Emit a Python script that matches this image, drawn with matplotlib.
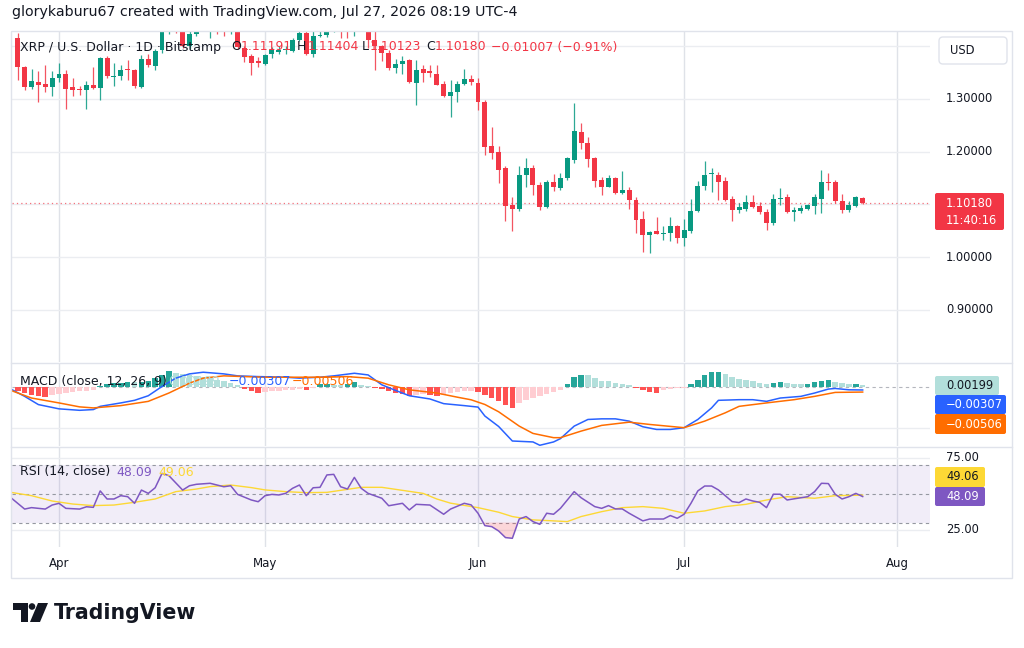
import numpy as np
import matplotlib
matplotlib.use('Agg')
import matplotlib.pyplot as plt
from matplotlib.transforms import blended_transform_factory
from matplotlib.patches import Rectangle, FancyBboxPatch, Polygon, Circle

plt.rcParams['font.family'] = ['DejaVu Sans']

# ---- data (day 0 = Apr 1, 2026) ----
days = list(range(-6, 118))
opens = [1.4156, 1.360, 1.322, 1.332, 1.328, 1.322, 1.340, 1.347, 1.322, 1.319,
         1.316, 1.326, 1.321, 1.378, 1.342, 1.344, 1.356, 1.354, 1.323, 1.376,
         1.362, 1.392, 1.440, 1.462, 1.442, 1.400, 1.423, 1.440, 1.436, 1.455,
         1.445, 1.428, 1.440, 1.397, 1.381, 1.371, 1.366, 1.385, 1.389, 1.392,
         1.391, 1.412, 1.425, 1.385, 1.420, 1.421, 1.428, 1.458, 1.445, 1.435,
         1.450, 1.440, 1.412, 1.400, 1.387, 1.359, 1.366, 1.373, 1.331, 1.356,
         1.352, 1.348, 1.328, 1.305, 1.314, 1.328, 1.338, 1.331, 1.295, 1.211,
         1.200, 1.168, 1.098, 1.092, 1.155, 1.168, 1.137, 1.095, 1.142, 1.131,
         1.149, 1.184, 1.237, 1.217, 1.187, 1.146, 1.133, 1.149, 1.122, 1.128,
         1.109, 1.072, 1.042, 1.049, 1.044, 1.046, 1.058, 1.037, 1.050, 1.088,
         1.134, 1.157, 1.156, 1.144, 1.111, 1.089, 1.091, 1.104, 1.097, 1.085,
         1.065, 1.110, 1.113, 1.085, 1.088, 1.092, 1.097, 1.111, 1.143, 1.143,
         1.106, 1.089, 1.096, 1.11191]
highs = [1.425, 1.362, 1.357, 1.352, 1.365, 1.352, 1.368, 1.355, 1.340, 1.324,
         1.333, 1.360, 1.379, 1.381, 1.368, 1.364, 1.373, 1.356, 1.384, 1.385,
         1.395, 1.460, 1.475, 1.470, 1.450, 1.440, 1.452, 1.455, 1.468, 1.462,
         1.450, 1.448, 1.445, 1.400, 1.386, 1.380, 1.386, 1.398, 1.401, 1.400,
         1.416, 1.430, 1.432, 1.435, 1.432, 1.440, 1.460, 1.465, 1.452, 1.458,
         1.456, 1.445, 1.430, 1.403, 1.392, 1.376, 1.381, 1.375, 1.374, 1.364,
         1.364, 1.364, 1.333, 1.336, 1.333, 1.357, 1.345, 1.339, 1.298, 1.247,
         1.210, 1.173, 1.114, 1.173, 1.187, 1.175, 1.142, 1.146, 1.157, 1.160,
         1.190, 1.293, 1.255, 1.227, 1.190, 1.152, 1.156, 1.152, 1.164, 1.132,
         1.113, 1.088, 1.050, 1.076, 1.058, 1.076, 1.060, 1.073, 1.111, 1.145,
         1.183, 1.168, 1.162, 1.151, 1.116, 1.102, 1.117, 1.117, 1.105, 1.092,
         1.120, 1.131, 1.119, 1.095, 1.099, 1.101, 1.120, 1.165, 1.159, 1.146,
         1.120, 1.107, 1.115, 1.11404]
lows = [1.336, 1.317, 1.319, 1.294, 1.314, 1.305, 1.332, 1.281, 1.305, 1.308,
        1.280, 1.318, 1.297, 1.340, 1.324, 1.335, 1.336, 1.321, 1.321, 1.360,
        1.354, 1.388, 1.424, 1.425, 1.396, 1.395, 1.420, 1.430, 1.415, 1.424,
        1.420, 1.424, 1.395, 1.370, 1.346, 1.360, 1.364, 1.378, 1.385, 1.386,
        1.389, 1.409, 1.384, 1.379, 1.417, 1.418, 1.427, 1.415, 1.415, 1.420,
        1.430, 1.397, 1.355, 1.371, 1.355, 1.349, 1.347, 1.330, 1.289, 1.332,
        1.342, 1.326, 1.303, 1.265, 1.295, 1.326, 1.326, 1.279, 1.193, 1.185,
        1.141, 1.069, 1.050, 1.088, 1.132, 1.118, 1.089, 1.093, 1.126, 1.127,
        1.146, 1.178, 1.204, 1.170, 1.132, 1.118, 1.132, 1.120, 1.120, 1.091,
        1.046, 1.010, 1.008, 1.043, 1.032, 1.031, 1.027, 1.021, 1.045, 1.085,
        1.128, 1.124, 1.108, 1.107, 1.069, 1.083, 1.088, 1.093, 1.081, 1.052,
        1.061, 1.098, 1.083, 1.069, 1.084, 1.090, 1.082, 1.084, 1.128, 1.102,
        1.084, 1.086, 1.094, 1.10123]
closes = [1.3605, 1.322, 1.333, 1.327, 1.322, 1.340, 1.347, 1.319, 1.317, 1.316,
          1.326, 1.321, 1.378, 1.343, 1.344, 1.355, 1.354, 1.324, 1.376, 1.364,
          1.390, 1.440, 1.462, 1.442, 1.400, 1.423, 1.440, 1.436, 1.455, 1.445,
          1.428, 1.440, 1.398, 1.379, 1.368, 1.368, 1.384, 1.393, 1.393, 1.395,
          1.412, 1.425, 1.385, 1.419, 1.422, 1.428, 1.448, 1.440, 1.435, 1.450,
          1.440, 1.412, 1.400, 1.387, 1.359, 1.366, 1.371, 1.332, 1.355, 1.349,
          1.350, 1.327, 1.305, 1.314, 1.328, 1.338, 1.332, 1.295, 1.208, 1.198,
          1.166, 1.097, 1.092, 1.156, 1.168, 1.136, 1.095, 1.142, 1.132, 1.150,
          1.187, 1.239, 1.216, 1.185, 1.145, 1.133, 1.149, 1.122, 1.128, 1.108,
          1.070, 1.042, 1.047, 1.044, 1.046, 1.058, 1.037, 1.051, 1.088, 1.134,
          1.156, 1.159, 1.143, 1.109, 1.089, 1.094, 1.104, 1.095, 1.085, 1.065,
          1.110, 1.112, 1.085, 1.090, 1.093, 1.098, 1.113, 1.143, 1.141, 1.106,
          1.089, 1.098, 1.113, 1.10180]

# MACD values in thousandths
macd_days = [-7, -5, -3, 0, 3, 5, 6, 9, 11, 13, 15, 17, 19, 21, 24, 26, 29, 33, 35, 38,
             40, 43, 45, 47, 49, 51, 54, 56, 59, 61, 62, 64, 66, 69, 70, 72, 73, 75, 77, 79,
             81, 83, 85, 87, 89, 91, 93, 95, 96, 99, 101, 103, 105, 108, 110, 112, 113, 115, 117]
macd_line = [-2.2, -9.2, -17.1, -21.2, -22.6, -21.9, -18.8, -15.5, -13.0, -8.6,
             0.3, 8.3, 12.4, 14.0, 12.4, 10.5, 9.8, 9.2, 8.3, 9.2,
             10.5, 13.0, 11.4, 1.9, -3.5, -8.6, -11.7, -16.2, -18.1, -19.5,
             -28.1, -38.1, -52.1, -53.0, -56.2, -53.0, -49.8, -37.8, -31.4, -30.8,
             -30.8, -33.0, -38.4, -41.0, -41.0, -39.3, -31.4, -20.3, -13.0, -12.4,
             -12.4, -14.0, -10.8, -9.2, -6.0, -2.2, -1.6, -2.9, -3.07]
signal_days = [-7, -4, 0, 3, 5, 9, 13, 16, 19, 21, 24, 27, 30, 35, 39, 42, 45, 48, 51, 55,
               58, 60, 62, 64, 67, 69, 72, 73, 76, 79, 83, 86, 91, 94, 97, 99, 103, 107, 110, 113, 117]
signal_line = [-3.5, -10.8, -15.5, -19.3, -20.3, -18.1, -14.0, -6.0, 3.5, 8.3,
               10.5, 9.8, 9.2, 9.2, 9.2, 9.8, 8.3, 1.9, -2.9, -6.0,
               -10.0, -12.5, -17.0, -24.0, -37.8, -44.8, -48.9, -48.9, -42.6, -37.1,
               -34.0, -36.2, -39.3, -33.0, -25.0, -18.8, -15.5, -12.4, -9.2, -5.4, -5.06]
macd_hist = [-4, -6, -8, -9, -9.5, -7.5, -6.5, -5.5, -5, -4.5,
             -4, -3, 1, 3, 3.5, 4, 4.5, 4.2, 5, 6,
             8, 11, 15, 13, 12, 11, 10, 9, 8, 7,
             6, 4, 2, -2, -4, -5.5, -5, -4.5, -4, -3.5,
             -3, -2.5, -2.8, -1.5, 2.5, 3, 2, 1.5, 3, 5,
             2, 1, -1, -2.5, -4, -5.5, -7, -8.5, -8, -7,
             -7.5, -9, -8, -6, -5, -4.5, -4, -5, -8, -11,
             -14, -17.5, -20.5, -16, -12.5, -10.5, -8.5, -7, -5, -3,
             3, 9, 11.5, 11, 8, 6, 5.5, 4, 3, 1.5,
             -1.5, -3.5, -5, -5.5, -3.5, -2, -1.5, -0.8, 2.5, 7,
             11, 14, 14.5, 12.5, 9.5, 7.5, 7, 5.5, 3.5, 2.5,
             3.5, 5, 3.5, 2.5, 2.4, 3, 4.5, 5.5, 6.5, 5,
             3.5, 2.5, 2.6, 1.99]

rsi_days = [-7, -5, -4, -2, -1, 0, 1, 3, 4, 5, 6, 7, 8, 9, 10, 11, 12, 13, 14, 15,
            16, 18, 19, 20, 22, 23, 24, 25, 26, 28, 29, 30, 31, 32, 33, 34, 35, 36, 37, 38,
            39, 40, 41, 42, 43, 44, 45, 47, 48, 50, 51, 52, 54, 56, 57, 59, 60, 61, 62, 63,
            64, 65, 66, 67, 68, 69, 70, 71, 72, 73, 75, 76, 78, 79, 80, 81, 82, 83, 85, 86,
            88, 89, 90, 91, 92, 93, 94, 95, 96, 98, 99, 100, 101, 102, 103, 104, 105, 106, 107, 109,
            110, 111, 112, 113, 114, 115, 116, 117]
rsi_vals = [47.3, 39.4, 40.4, 39.4, 42.2, 43.4, 39.9, 39.4, 41.0, 40.6, 52.0, 46.4, 46.4, 48.7, 48.0, 43.4, 52.6, 50.3, 54.2, 64.2,
            62.6, 52.6, 55.6, 56.6, 57.3, 56.1, 54.9, 55.6, 49.6, 45.7, 44.5, 48.7, 49.6, 49.2, 50.3, 53.8, 56.1, 48.7, 54.2, 54.5,
            63.1, 63.5, 54.9, 53.3, 61.4, 53.8, 50.3, 46.9, 41.7, 43.4, 38.8, 42.7, 42.2, 35.8, 39.4, 43.4, 42.3, 36.5, 27.9, 27.2,
            24.2, 19.6, 19.1, 32.5, 34.2, 30.7, 28.8, 36.5, 35.8, 39.9, 51.5, 47.3, 41.1, 39.9, 41.8, 39.5, 39.5, 36.5, 31.2, 32.5,
            32.5, 34.9, 33.0, 35.8, 43.4, 52.0, 55.4, 55.4, 52.7, 44.6, 43.9, 46.4, 45.0, 44.1, 40.4, 49.7, 49.7, 45.7, 46.5, 48.0,
            51.5, 57.3, 57.1, 49.7, 46.4, 48.0, 50.3, 48.09]
rsi_ma_days = [-7, -4, -1, 2, 5, 8, 11, 14, 17, 20, 22, 25, 28, 30, 33, 36, 39, 42, 44, 47,
               50, 53, 55, 57, 61, 64, 66, 69, 72, 74, 76, 79, 82, 85, 88, 91, 94, 97, 100, 103,
               106, 110, 113, 117]
rsi_ma_vals = [51.0, 48.7, 45.0, 42.9, 41.8, 42.2, 44.1, 46.4, 51.5, 53.3, 55.0, 56.1, 54.3, 52.7, 51.5, 50.8, 51.0, 53.1, 54.5, 54.5,
               52.4, 50.3, 46.4, 43.5, 40.4, 37.2, 34.2, 31.9, 31.2, 30.7, 34.2, 37.6, 40.4, 41.1, 39.9, 36.5, 38.1, 41.1, 42.7, 45.7,
               48.0, 46.9, 48.7, 49.06]

month_days = [0, 30, 61, 91, 122]
month_labels = ['Apr', 'May', 'Jun', 'Jul', 'Aug']
price_levels = [0.9, 1.0, 1.1, 1.2, 1.3, 1.4]
price_labels = ['0.90000', '1.00000', '', '1.20000', '1.30000', '']

UP, DOWN = '#089981', '#F23645'
TXT = '#131722'
GRID = '#EBEDF1'
VGRID = '#DFE2E8'

# ---- figure layout (pixel boxes) ----
W, H = 1024, 648
fig = plt.figure(figsize=(10.24, 6.48), dpi=100)


def box(x0, y0, x1, y1):
    return [x0 / W, 1 - y1 / H, (x1 - x0) / W, (y1 - y0) / H]


ax_p = fig.add_axes(box(12, 32, 930, 362))
ax_m = fig.add_axes(box(12, 364, 930, 446))
ax_r = fig.add_axes(box(12, 447, 930, 547))

for ax in (ax_p, ax_m, ax_r):
    ax.set_xlim(-6.84, 126.8)
    for s in ax.spines.values():
        s.set_visible(False)
    ax.set_yticks([])
    ax.set_xticks([])
    for d in month_days:
        ax.axvline(d, color=VGRID, lw=1.0, zorder=0)

# ---- price pane ----
ax_p.set_ylim(0.8008, 1.4269)
for v in price_levels:
    ax_p.axhline(v, color=GRID, lw=1.0, zorder=0)
o = np.array(opens)
c = np.array(closes)
cols = np.where(c >= o, UP, DOWN)
ax_p.vlines(days, lows, highs, colors=cols, lw=0.9, alpha=0.85, zorder=2)
ax_p.bar(days, np.maximum(np.abs(c - o), 0.0015), bottom=np.minimum(o, c),
         width=0.72, color=cols, linewidth=0, zorder=3)
ax_p.axhline(closes[-1], color=DOWN, lw=0.9, ls=(0, (1, 2.5)), alpha=0.7, zorder=1)
tp = blended_transform_factory(ax_p.transAxes, ax_p.transData)
for v, lab in zip(price_levels, price_labels):
    if lab:
        ax_p.text(1.0174, v, lab, transform=tp, va='center', ha='left', fontsize=8.3, color=TXT)

# ---- MACD pane ----
ax_m.set_ylim(-56.9, 21.9)
ax_m.axhline(-40, color=GRID, lw=1.0, zorder=0)
ax_m.axhline(0, color='#9598A1', lw=0.8, ls=(0, (3, 3)), alpha=0.7, zorder=1)
hcols = []
prev = 0
for v in macd_hist:
    if v >= 0:
        hcols.append('#26A69A' if v >= prev else '#B2DFDB')
    else:
        hcols.append('#FF5252' if v < prev else '#FFCDD2')
    prev = v
ax_m.bar(days, macd_hist, width=0.8, color=hcols, linewidth=0, zorder=2)
ax_m.plot(macd_days, macd_line, color='#2962FF', lw=1.1, zorder=3)
ax_m.plot(signal_days, signal_line, color='#FF6D00', lw=1.1, zorder=3)

# ---- RSI pane ----
ax_r.set_ylim(13.06, 82.5)
for v in (25, 75):
    ax_r.axhline(v, color=GRID, lw=1.0, zorder=0)
ax_r.axhspan(30, 70, color='#7E57C2', alpha=0.1, lw=0, zorder=0)
for v in (30, 50, 70):
    ax_r.axhline(v, color='#9598A1', lw=0.8, ls=(0, (3, 3)), zorder=1)
rd = np.array(rsi_days)
rv = np.array(rsi_vals)
ax_r.fill_between(rd, rv, 30, where=rv < 30, interpolate=True, color='#F23645', alpha=0.2, lw=0, zorder=1)
ax_r.plot(rsi_ma_days, rsi_ma_vals, color='#FDD835', lw=1.0, zorder=2)
ax_r.plot(rsi_days, rsi_vals, color='#7E57C2', lw=1.1, zorder=3)
tr = blended_transform_factory(ax_r.transAxes, ax_r.transData)
ax_r.text(1.0174, 75, '75.00', transform=tr, va='center', ha='left', fontsize=8.3, color=TXT)
ax_r.text(1.0174, 25, '25.00', transform=tr, va='center', ha='left', fontsize=8.3, color=TXT)
ax_r.set_xticks(month_days)
ax_r.set_xticklabels(month_labels)
ax_r.tick_params(axis='x', length=0, pad=7, labelsize=8.5, labelcolor=TXT)

# ---- overlay: frame, legends, labels, logo ----
ov = fig.add_axes([0, 0, 1, 1])
ov.set_xlim(0, W)
ov.set_ylim(H, 0)
ov.axis('off')

ov.add_patch(Rectangle((11, 31), 1001, 547, fill=False, ec='#E0E3EB', lw=1.0))
ov.plot([11, 1012], [363, 363], color='#E0E3EB', lw=1.0)
ov.plot([11, 1012], [446.5, 446.5], color='#E0E3EB', lw=1.0)

ov.text(12, 12, 'glorykaburu67 created with TradingView.com, Jul 27, 2026 08:19 UTC-4',
        va='center', ha='left', fontsize=10.2, color=TXT)

fs = 9.0
ov.text(20, 47, 'XRP / U.S. Dollar · 1D · Bitstamp', va='center', fontsize=fs, color=TXT)
for x, s, col in [(231, 'O', TXT), (241, '1.11191', DOWN), (297, 'H', TXT), (308, '1.11404', DOWN),
                  (362, 'L', TXT), (370, '1.10123', DOWN), (426, 'C', TXT), (435, '1.10180', DOWN),
                  (491, '−0.01007 (−0.91%)', DOWN)]:
    ov.text(x, 47, s, va='center', fontsize=fs, color=col)

ov.text(20, 381.5, 'MACD (close, 12, 26, 9)', va='center', fontsize=fs, color=TXT)
ov.text(168, 381.5, '0.00199', va='center', fontsize=fs, color='#B2DFDB')
ov.text(229, 381.5, '−0.00307', va='center', fontsize=fs, color='#2962FF')
ov.text(292, 381.5, '−0.00506', va='center', fontsize=fs, color='#FF6D00')

ov.text(20, 472, 'RSI (14, close)', va='center', fontsize=fs, color=TXT)
ov.text(116, 472, '48.09', va='center', fontsize=fs, color='#7E57C2')
ov.text(158, 472, '49.06', va='center', fontsize=fs, color='#FDD835')

# right scale boxes
ov.add_patch(FancyBboxPatch((939, 37), 68, 27, boxstyle='round,pad=0,rounding_size=4',
                            fc='white', ec='#E0E3EB', lw=1.0))
ov.text(950, 50.5, 'USD', va='center', fontsize=8.3, color=TXT)

label_boxes = [
    ((935, 193, 69, 37), DOWN, [('1.10180', 203.5, 'white'), ('11:40:16', 220, 'white')]),
    ((935, 376, 64, 19), '#B2DFDB', [('0.00199', 385.5, TXT)]),
    ((935, 395, 71, 19), '#2962FF', [('−0.00307', 404.5, 'white')]),
    ((935, 414, 71, 20), '#FF6D00', [('−0.00506', 424, 'white')]),
    ((935, 467, 50, 20), '#FDD835', [('49.06', 477, TXT)]),
    ((935, 487, 50, 19), '#7E57C2', [('48.09', 496.5, 'white')]),
]
for (x, y, w, h), fc, texts in label_boxes:
    ov.add_patch(FancyBboxPatch((x, y), w, h, boxstyle='round,pad=0,rounding_size=2',
                                fc=fc, ec='none'))
    for s, ty, tc in texts:
        ov.text(946, ty, s, va='center', ha='left', fontsize=8.3, color=tc)

# TradingView logo
ov.add_patch(Polygon([(13, 603), (28, 603), (28, 622), (20.5, 622), (20.5, 609.5), (13, 609.5)],
                     closed=True, fc=TXT, ec='none'))
ov.add_patch(Circle((32, 606.5), 3.3, fc=TXT, ec='none'))
ov.add_patch(Polygon([(38, 603), (48, 603), (40, 622), (30, 622)], closed=True, fc=TXT, ec='none'))
ov.text(54, 613, 'TradingView', va='center', ha='left', fontsize=14.8, fontweight='bold', color=TXT)

fig.savefig('out.png', dpi=100)
